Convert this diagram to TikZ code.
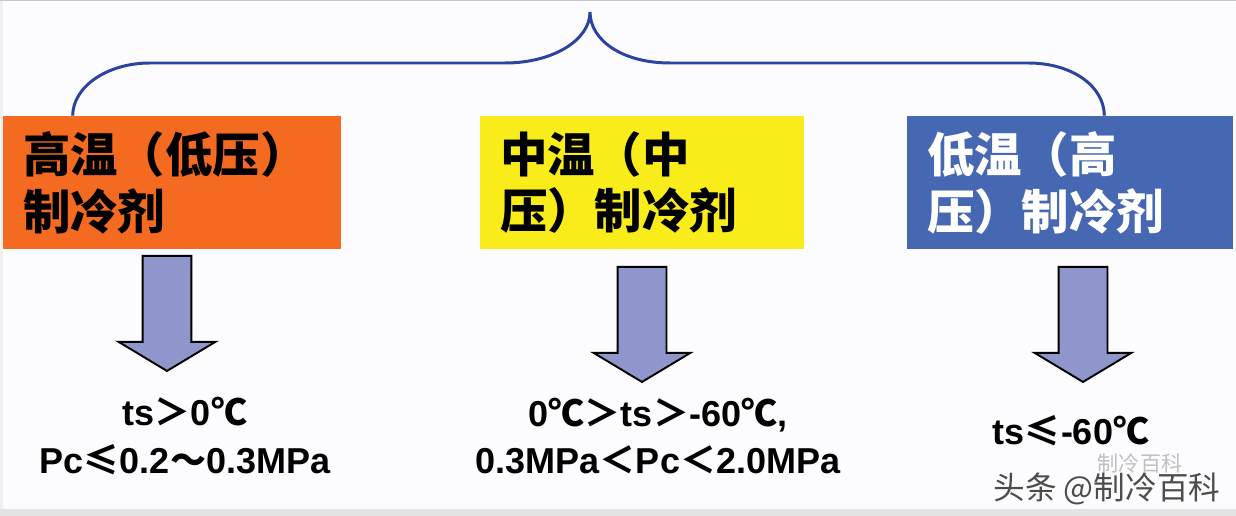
\documentclass[tikz,border=0pt]{standalone}
\usepackage{fontspec}
\setmainfont{Liberation Sans}
\newfontfamily\cjk{Noto Sans CJK SC}
\usetikzlibrary{positioning,shapes.arrows}

\definecolor{hotorange}{RGB}{244,106,32}
\definecolor{midyellow}{RGB}{248,236,26}
\definecolor{coldblue}{RGB}{70,104,178}
\definecolor{braceblue}{RGB}{44,68,160}
\definecolor{arrowfill}{RGB}{142,150,204}
\definecolor{paper}{RGB}{252,252,254}

\newcommand{\cj}[1]{{\cjk #1}}

\tikzset{
    kindbox/.style={minimum height=2.66cm, inner xsep=0.4cm, inner ysep=0pt, align=left,
        font=\cjk\bfseries\fontsize{27}{32.4}\selectfont},
    downarrow/.style={single arrow, draw=black, line width=1.1pt, fill=arrowfill,
        minimum height=2.3cm, single arrow head extend=0.48cm,
        single arrow tip angle=118, rotate=-90, inner xsep=0pt, inner ysep=0.47cm, anchor=tail},
    rangetext/.style={align=center, font=\bfseries\fontsize{20.5}{27.3}\selectfont}
}

\begin{document}
\begin{tikzpicture}[x=0.02cm,y=-0.02cm]
    \useasboundingbox (0,0) rectangle (1236,516);
    %page
    \fill[paper] (0,0) rectangle (1236,516);
    \fill[gray!12] (0,0) rectangle (3,516);
    \fill[gray!22] (0,509) rectangle (1236,516);
    \draw[gray!45, line width=1pt] (0,0.5) -- (1236,0.5);

    %three kinds
    \node[kindbox, fill=hotorange, text width=5.96cm] (high) at (172,182.5) {高温（低压）\\制冷剂};
    \node[kindbox, fill=midyellow, text width=5.68cm] (mid) at (642,182.5) {中温（中\\压）制冷剂};
    \node[kindbox, fill=coldblue, text=white, text width=5.72cm] (low) at (1070,182.5) {低温（高\\压）制冷剂};

    %brace over the boxes
    \coordinate (top) at (590,12);
    \draw[braceblue, line width=1.7pt]
        ([xshift=1.4cm]high.north west) .. controls (73,86) and (108,63) .. (150,63)
        -- (505,63) .. controls (553,63) and (590,40) .. (top)
        .. controls (590,40) and (622,63) .. (670,63)
        -- (1028,63) .. controls (1072,63) and (1104,86) .. ([xshift=-2.58cm]low.north east);

    %arrows
    \node[downarrow] (arrowhigh) at (167,255) {};
    \node[downarrow] (arrowmid) at (642,266) {};
    \node[downarrow] (arrowlow) at (1083,266) {};

    %ranges
    \node[rangetext] (rangehigh) at (185,436) {ts\cj{＞}0\cj{℃}\\Pc\cj{≤}0.2\cj{～}0.3MPa};
    \node[rangetext] (rangemid) at (658,436) {0\cj{℃＞}ts\cj{＞}-60\cj{℃},\\0.3MPa\cj{＜}Pc\cj{＜}2.0MPa};
    \node[rangetext] (rangelow) at (1071,431) {ts\cj{≤}-60\cj{℃}};

    %watermark
    \node[gray!50, font=\cjk\fontsize{12}{12}\selectfont, inner sep=0pt] (ghost) at (1140,463) {制冷百科};
    \node[black!70, font=\cjk\fontsize{18}{18}\selectfont, inner sep=0pt] (wmark) at (1107,489) {头条 @制冷百科};
\end{tikzpicture}
\end{document}
